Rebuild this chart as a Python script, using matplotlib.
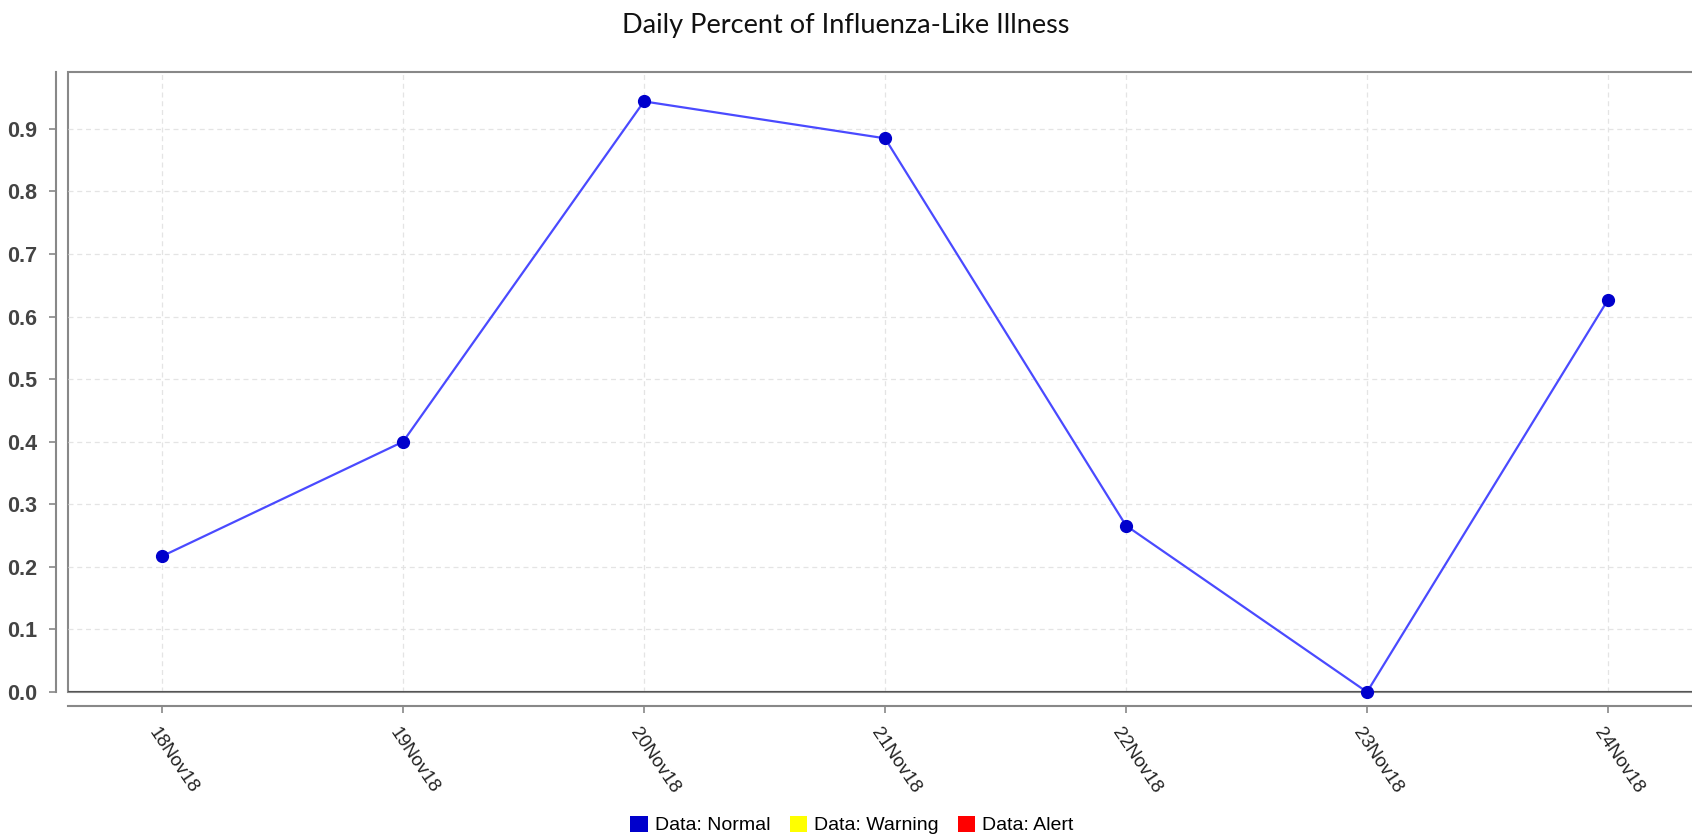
import matplotlib
matplotlib.use("Agg")
import matplotlib.pyplot as plt
from matplotlib.patches import Patch

dates = ["18Nov18", "19Nov18", "20Nov18", "21Nov18", "22Nov18", "23Nov18", "24Nov18"]
values = [0.217, 0.400, 0.944, 0.885, 0.266, 0.0, 0.627]
yticks = [0.0, 0.1, 0.2, 0.3, 0.4, 0.5, 0.6, 0.7, 0.8, 0.9]
legend_labels = ["Data: Normal", "Data: Warning", "Data: Alert"]
legend_colors = ["#0000cc", "#ffff00", "#ff0000"]

W, H = 1692, 839
fig = plt.figure(figsize=(W / 100, H / 100), dpi=100)
left, right, top, bottom = 68, 1702, 72, 692
ax = fig.add_axes([left / W, 1 - bottom / H, (right - left) / W, (bottom - top) / H])

for s in ["top", "right"]:
    ax.spines[s].set_visible(False)
ax.spines["left"].set_position(("outward", 9))
ax.spines["bottom"].set_position(("outward", 10))
ax.spines["left"].set_color("#888888")
ax.spines["bottom"].set_color("#888888")
ax.spines["left"].set_linewidth(1.5)
ax.spines["bottom"].set_linewidth(1.5)

x = list(range(len(dates)))
ax.plot(x, values, color="#4a4aff", lw=1.6, marker="o", markersize=8.5,
        markerfacecolor="#0000cc", markeredgecolor="#0000cc", zorder=5, clip_on=False)

ax.set_xlim(-0.39, 6.39)
ax.set_ylim(0.0, 0.991)
ax.set_xticks(x)
ax.set_xticklabels([])
ax.set_yticks(yticks)
ax.set_yticklabels([f"{v:.1f}" for v in yticks], fontsize=15.5, fontweight="bold",
                   color="#444444", family="Liberation Sans")
for xi, d in zip(x, dates):
    ax.annotate(d, xy=(xi, 0), xycoords=("data", "axes fraction"),
                xytext=(-10, -37), textcoords="offset pixels",
                rotation=-56, rotation_mode="anchor", ha="left", va="center",
                fontsize=13.5, color="#222222", family="Liberation Sans",
                annotation_clip=False)
ax.grid(True, color="#e4e4e4", linestyle=(0, (4, 3)), linewidth=0.9)
ax.set_axisbelow(True)

ax.tick_params(axis="both", color="#888888", length=5, width=1.2)
ax.tick_params(axis="y", pad=8)

ax.patch.set_edgecolor("#888888")
ax.patch.set_linewidth(1.5)
ax.axhline(0, color="#555555", lw=1.5, zorder=3)

fig.text(846 / W, 1 - 25 / H, "Daily Percent of Influenza-Like Illness", ha="center",
         va="center", fontsize=19.5, family="Lato", color="#111111")

handles = [Patch(facecolor=c, edgecolor="none") for c in legend_colors]
fig.legend(handles, legend_labels, loc="center", bbox_to_anchor=(852 / W, 1 - 825 / H),
           ncol=3, frameon=False, prop={"family": "Liberation Sans", "size": 14},
           handlelength=0.9, handleheight=0.9, handletextpad=0.35, columnspacing=1.0)

fig.savefig("out.png", dpi=100)
